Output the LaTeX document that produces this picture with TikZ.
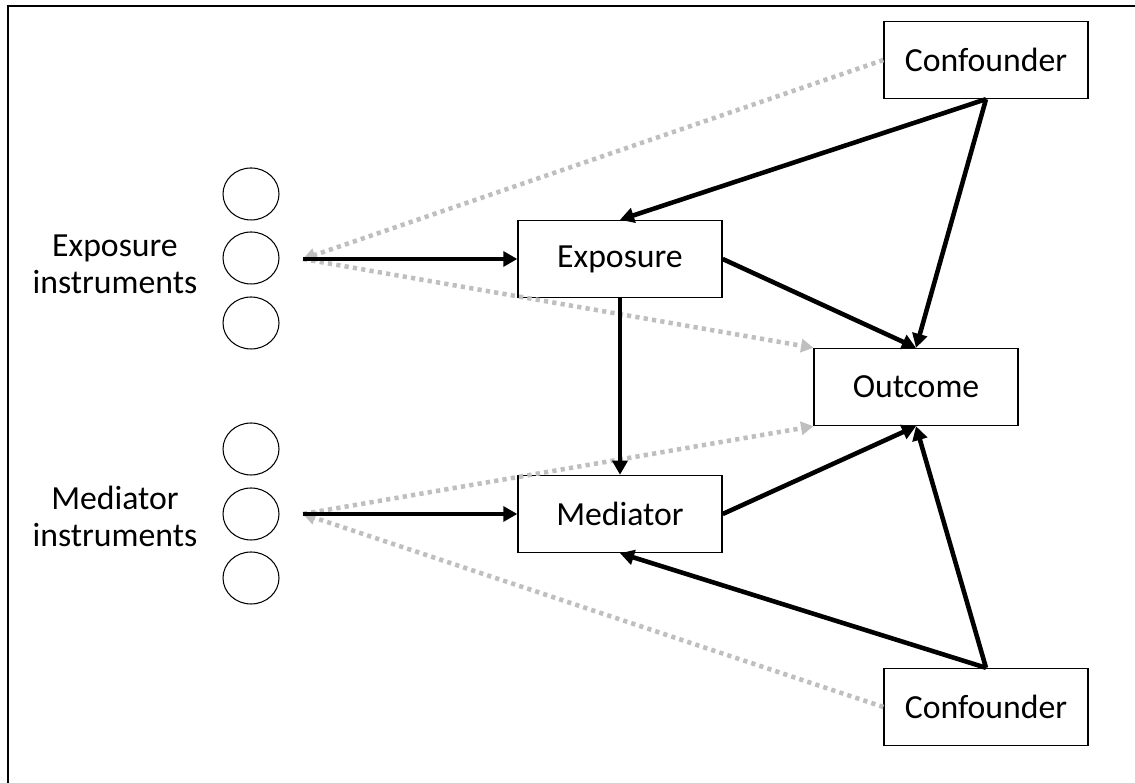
\documentclass[tikz,border=0pt]{standalone}
\usepackage{fontspec}
\setmainfont{Carlito}
\usetikzlibrary{positioning, arrows.meta, shapes.geometric}

\tikzset{
    box/.style={draw, line width=0.8pt,
        minimum width=4.08cm, minimum height=1.54cm,
        inner sep=0pt, font=\fontsize{19.2}{21}\selectfont},
    instr/.style={draw, ellipse, line width=0.6pt,
        minimum width=1.12cm, minimum height=1.04cm, inner sep=0pt},
    causal/.style={-{Triangle[length=8pt, width=8.5pt]}, line width=2.6pt},
    bias/.style={-{Triangle[length=7pt, width=7.5pt]}, line width=2.6pt,
        black!25, dash pattern=on 2.4pt off 2.4pt}
}

\begin{document}
\begin{tikzpicture}[x=0.02cm, y=0.02cm]
    \useasboundingbox (0,0) rectangle (1135,783);
    \draw [line width=1.1pt] (8,777) rectangle (1150,-20);

    % boxes
    \node [box] (conftop) at (986,723) {Confounder};
    \node [box] (expo) at (620,524) {Exposure};
    \node [box] (outc) at (916,396) {Outcome};
    \node [box] (medi) at (620,269) {Mediator};
    \node [box] (confbot) at (986,76) {Confounder};

    % instruments
    \node [instr] (e1) at (251,589) {};
    \node [instr] (e2) at (251,525) {};
    \node [instr] (e3) at (251,460) {};
    \node [instr] (m1) at (251,334) {};
    \node [instr] (m2) at (251,269) {};
    \node [instr] (m3) at (251,205) {};

    \coordinate (ei) at (303,524);
    \coordinate (mi) at (303,269);

    \node [align=center, font=\fontsize{19.2}{21}\selectfont] (elabel) at (115,519) {Exposure\\instruments};
    \node [align=center, font=\fontsize{19.2}{21}\selectfont] (mlabel) at (115,267) {Mediator\\instruments};

    % dotted paths
    \draw [bias] (conftop.west) -- (ei);
    \draw [bias] (ei) -- (outc.north west);
    \draw [bias] (mi) -- (outc.south west);
    \draw [bias] (confbot.west) -- (mi);

    % causal paths
    \draw [causal] (ei) -- (expo.west);
    \draw [causal] (mi) -- (medi.west);
    \draw [causal] (conftop.south) -- (expo.north);
    \draw [causal] (conftop.south) -- (outc.north);
    \draw [causal] (expo.east) -- (outc.north);
    \draw [causal] (expo.south) -- (medi.north);
    \draw [causal] (medi.east) -- (outc.south);
    \draw [causal] (confbot.north) -- (outc.south);
    \draw [causal] (confbot.north) -- (medi.south);
\end{tikzpicture}
\end{document}
